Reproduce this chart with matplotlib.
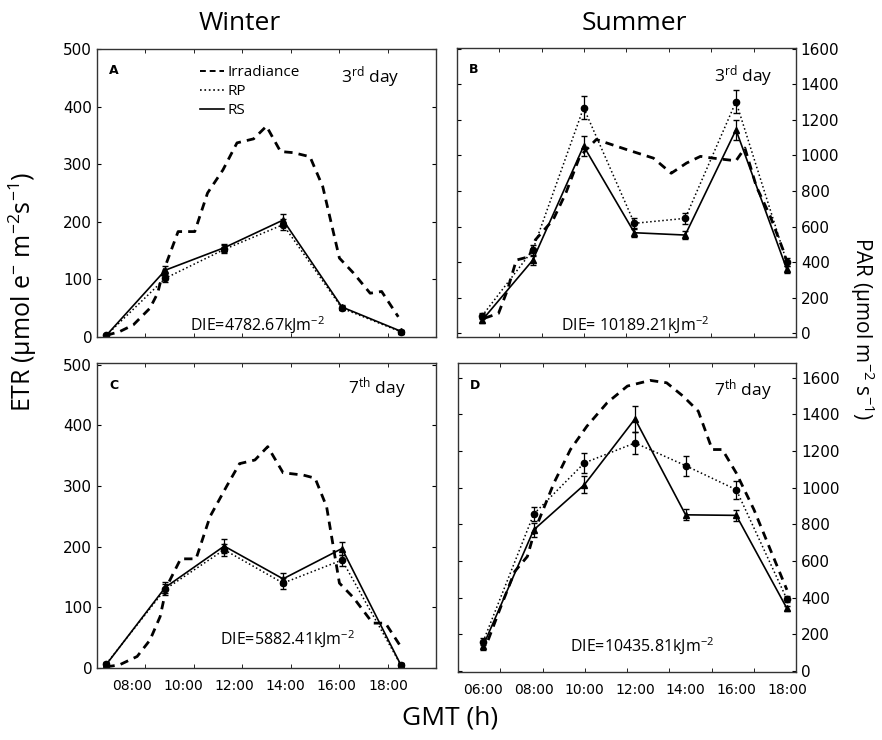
import numpy as np
import matplotlib
matplotlib.use("Agg")
import matplotlib.pyplot as plt
from matplotlib.lines import Line2D

plt.rcParams["font.family"] = ["DejaVu Sans"]
plt.rcParams["mathtext.fontset"] = "custom"
plt.rcParams["mathtext.rm"] = "Open Sans"
plt.rcParams["mathtext.it"] = "Open Sans:italic"
plt.rcParams["mathtext.bf"] = "Open Sans:bold"

# sampling hours
winter_h = [7.0, 9.3, 11.6, 13.9, 16.2, 18.5]
summer_h = [6, 8, 10, 12, 14, 16, 18]

# A - winter 3rd day
irrA_h = [7.0, 7.5, 8.05, 8.7, 9.0, 9.2, 9.8, 10.45, 10.95, 11.55, 12.1, 12.75,
          13.25, 13.8, 14.3, 14.95, 15.45, 16.1, 16.65, 17.3, 17.75, 18.4]
irrA = [3, 9, 21, 50, 76, 111, 183, 183, 250, 290, 337, 344,
        366, 322, 320, 313, 261, 137, 111, 76, 79, 35]
rsA = [3, 116, 155, 203, 52, 10]
rsA_err = [3, 8, 7, 10, 4, 3]
rpA = [3, 102, 152, 195, 50, 9]
rpA_err = [3, 7, 7, 9, 4, 3]

# B - summer 3rd day
irrB_h = [6.1, 6.65, 7.0, 7.35, 7.85, 8.1, 8.8, 9.3, 9.85, 10.5, 11.7, 12.75,
          13.45, 14.05, 14.6, 15.1, 16.0, 16.35, 16.8, 17.35, 17.85, 18.0]
irrB = [84, 111, 242, 411, 430, 525, 638, 788, 995, 1090, 1033, 985,
        900, 957, 995, 985, 970, 1042, 826, 657, 470, 404]
rsB = [72, 411, 1053, 565, 552, 1144, 360]
rsB_err = [15, 25, 58, 25, 20, 58, 20]
rpB = [96, 468, 1269, 618, 646, 1303, 400]
rpB_err = [15, 30, 65, 30, 30, 64, 25]

# C - winter 7th day
irrC_h = [7.0, 7.5, 8.2, 8.7, 9.1, 9.35, 9.9, 10.5, 11.05, 11.7, 12.2, 12.8,
          13.3, 13.9, 14.7, 15.15, 15.6, 16.1, 16.65, 17.4, 17.9, 18.5]
irrC = [2, 5, 19, 46, 85, 134, 180, 180, 250, 300, 337, 343,
        365, 322, 318, 313, 266, 140, 116, 74, 74, 35]
rsC = [6, 133, 201, 147, 197, 5]
rsC_err = [3, 9, 12, 10, 10, 3]
rpC = [7, 130, 195, 140, 178, 5]
rpC_err = [3, 9, 10, 9, 9, 3]

# D - summer 7th day
irrD_h = [6.2, 6.65, 7.25, 7.75, 8.05, 8.8, 9.45, 10.1, 10.9, 11.7, 12.6, 13.25,
          13.9, 14.5, 15.05, 15.45, 16.0, 16.7, 17.35, 18.0]
irrD = [169, 333, 543, 625, 770, 1026, 1208, 1335, 1463, 1554, 1585, 1572,
        1499, 1417, 1208, 1208, 1080, 880, 661, 443]
rsD = [137, 770, 1016, 1375, 852, 849, 342]
rsD_err = [20, 40, 45, 70, 30, 30, 15]
rpD = [160, 856, 1135, 1244, 1120, 989, 392]
rpD_err = [20, 40, 55, 58, 55, 50, 15]

winter_ticks = [8, 10, 12, 14, 16, 18]
summer_ticks = [6, 8, 10, 12, 14, 16, 18]

fig = plt.figure(figsize=(8.82, 7.4), dpi=100)
axA = fig.add_axes([0.110, 0.5446, 0.3844, 0.3892])
axB = fig.add_axes([0.518, 0.5446, 0.3844, 0.3905])
axC = fig.add_axes([0.110, 0.0973, 0.3844, 0.4122])
axD = fig.add_axes([0.5193, 0.0919, 0.3832, 0.4176])


def draw_panel(ax, irr_h, irr, h, rs, rs_err, rp, rp_err):
    ax.plot(irr_h, irr, color="black", lw=2.0, dashes=(3, 2.2))
    ax.errorbar(h, rp, yerr=rp_err, color="black", lw=1.1, ls=":",
                marker="o", ms=4.5, capsize=2.5, elinewidth=0.9)
    ax.errorbar(h, rs, yerr=rs_err, color="black", lw=1.2, ls="-",
                marker="^", ms=5, capsize=2.5, elinewidth=0.9)


draw_panel(axA, irrA_h, irrA, winter_h, rsA, rsA_err, rpA, rpA_err)
draw_panel(axB, irrB_h, irrB, summer_h, rsB, rsB_err, rpB, rpB_err)
draw_panel(axC, irrC_h, irrC, winter_h, rsC, rsC_err, rpC, rpC_err)
draw_panel(axD, irrD_h, irrD, summer_h, rsD, rsD_err, rpD, rpD_err)

for ax in (axA, axC):
    ax.set_xlim(6.633, 19.875)
    ax.set_ylim(0, 500)
    ax.set_yticks([0, 100, 200, 300, 400, 500])
    ax.set_xticks(winter_ticks)
    ax.set_xticks(np.linspace(6.633, 19.875, 8)[1:-1], minor=True)
axC.set_ylim(0, 503)

for ax in (axB, axD):
    ax.set_xlim(5.01, 18.36)
    ax.set_yticks(range(0, 1601, 200))
    ax.yaxis.tick_right()
    ax.set_xticks(summer_ticks)
    ax.set_xticks(np.linspace(5.01, 18.36, 9)[1:-1], minor=True)
axB.set_ylim(-22, 1605)
axD.set_ylim(-5, 1680)

for ax in (axA, axB, axC, axD):
    for s in ax.spines.values():
        s.set_linewidth(1.0)
        s.set_color("#333333")
    ax.tick_params(axis="y", direction="in", length=3, labelsize=11,
                   left=True, right=True)
    ax.tick_params(axis="x", which="major", length=0, labelsize=10, pad=8)
    ax.tick_params(axis="x", which="minor", direction="in", length=3,
                   top=True, bottom=True)

for ax in (axA, axB):
    ax.tick_params(axis="x", labelbottom=False)

axC.set_xticklabels(["08:00", "10:00", "12:00", "14:00", "16:00", "18:00"])
axD.set_xticklabels(["06:00", "08:00", "10:00", "12:00", "14:00", "16:00", "18:00"])

# panel letters, days, DIE
for ax, letter, day, daypos, die, diepos in [
    (axA, "A", r"3$^{\mathrm{rd}}$ day", (0.805, 0.903),
     r"DIE=4782.67kJm$^{\mathrm{-2}}$", (0.472, 0.04)),
    (axB, "B", r"3$^{\mathrm{rd}}$ day", (0.844, 0.903),
     r"DIE= 10189.21kJm$^{\mathrm{-2}}$", (0.525, 0.04)),
    (axC, "C", r"7$^{\mathrm{th}}$ day", (0.826, 0.918),
     r"DIE=5882.41kJm$^{\mathrm{-2}}$", (0.563, 0.092)),
    (axD, "D", r"7$^{\mathrm{th}}$ day", (0.843, 0.913),
     r"DIE=10435.81kJm$^{\mathrm{-2}}$", (0.544, 0.081)),
]:
    ax.text(0.035, 0.927, letter, transform=ax.transAxes, fontsize=9,
            fontweight="bold", va="center", ha="left")
    ax.text(daypos[0], daypos[1], day, transform=ax.transAxes, ha="center",
            va="center", family="Open Sans", fontsize=12.5)
    ax.text(diepos[0], diepos[1], die, transform=ax.transAxes,
            ha="center", va="center", family="Open Sans", fontsize=11.5)

handles = [Line2D([], [], color="black", lw=1.4, dashes=(3, 2)),
           Line2D([], [], color="black", lw=1.2, ls=":"),
           Line2D([], [], color="black", lw=1.2)]
axA.legend(handles, ["Irradiance", "RP", "RS"], loc="upper left",
           bbox_to_anchor=(0.28, 0.97), frameon=False, handlelength=1.6,
           handletextpad=0.25, labelspacing=0.25, borderpad=0,
           prop=dict(family="Open Sans", size=11))

fig.text(240 / 882, 1 - 23 / 740, "Winter", ha="center", va="center",
         family="Open Sans", fontsize=19)
fig.text(634 / 882, 1 - 23 / 740, "Summer", ha="center", va="center",
         family="Open Sans", fontsize=19)
fig.text(450 / 882, 1 - 718 / 740, "GMT (h)", ha="center", va="center",
         family="Open Sans", fontsize=19)
fig.text(23 / 882, 1 - 292 / 740, r"ETR ($\mathrm{\mu}$mol e$^{\mathrm{-}}$ m$^{\mathrm{-2}}$s$^{\mathrm{-1}}$)",
         rotation=90, ha="center", va="center", family="Open Sans", fontsize=18)
fig.text(862 / 882, 1 - 328 / 740, r"PAR ($\mathrm{\mu}$mol m$^{\mathrm{-2}}$ s$^{\mathrm{-1}}$)",
         rotation=-90, ha="center", va="center", family="Open Sans", fontsize=15)

fig.savefig("out.png", dpi=100)
